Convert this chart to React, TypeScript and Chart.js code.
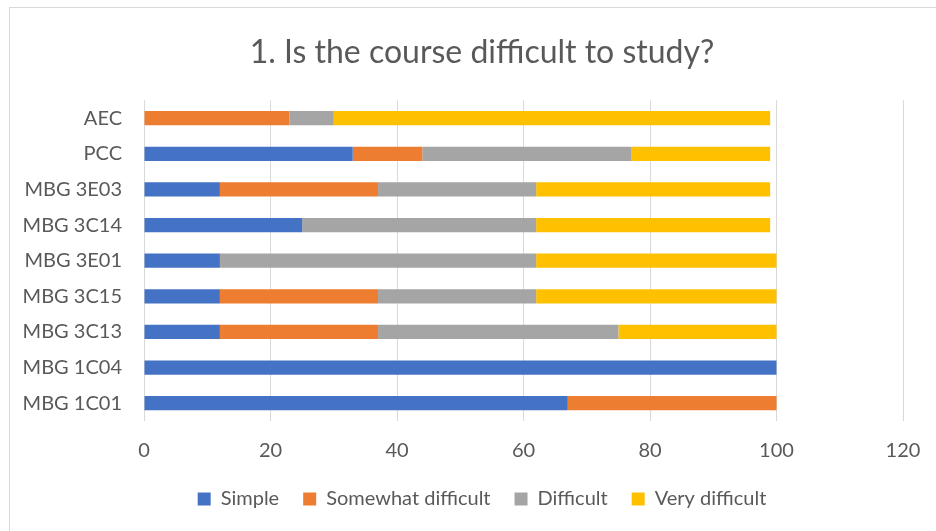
import React, { useEffect, useRef } from "react";
import { Chart, registerables } from "chart.js";

Chart.register(...registerables);

const categories = [
  "AEC",
  "PCC",
  "MBG 3E03",
  "MBG 3C14",
  "MBG 3E01",
  "MBG 3C15",
  "MBG 3C13",
  "MBG 1C04",
  "MBG 1C01",
];
const simple = [0, 33, 12, 25, 12, 12, 12, 100, 67];
const somewhatDifficult = [23, 11, 25, 0, 0, 25, 25, 0, 33];
const difficult = [7, 33, 25, 37, 50, 25, 38, 0, 0];
const veryDifficult = [69, 22, 37, 37, 38, 38, 25, 0, 0];
const seriesNames = ["Simple", "Somewhat difficult", "Difficult", "Very difficult"];
const xTicks = [0, 20, 40, 60, 80, 100, 120];
const title = "1. Is the course difficult to study?";

const COLORS = ["#4472C4", "#ED7D31", "#A5A5A5", "#FFC000"];
const TEXT = "#595959";
const FONT = "Lato, 'Open Sans', sans-serif";
const CANVAS_W = 964;

export default function App() {
  const ref = useRef<HTMLCanvasElement | null>(null);

  useEffect(() => {
    document.body.style.margin = "0";
    if (!ref.current) return;
    const values = [simple, somewhatDifficult, difficult, veryDifficult];
    const chart = new Chart(ref.current, {
      type: "bar",
      data: {
        labels: categories,
        datasets: values.map((v, i) => ({
          label: seriesNames[i],
          data: v,
          backgroundColor: COLORS[i],
          borderWidth: 0,
          categoryPercentage: 1,
          barPercentage: 0.4,
          xAxisID: "x",
          yAxisID: "y",
        })),
      },
      options: {
        animation: false,
        responsive: false,
        indexAxis: "y",
        layout: { padding: { left: 0, right: 0, top: 0, bottom: 12 } },
        scales: {
          x: {
            stacked: true,
            min: 0,
            max: xTicks[xTicks.length - 1],
            afterBuildTicks: (s: any) => {
              s.ticks = xTicks.map((v) => ({ value: v }));
            },
            afterFit: (s: any) => {
              s.height = 44;
            },
            grid: { color: "#d9d9d9", lineWidth: 1, drawTicks: false },
            border: { display: false },
            ticks: {
              color: TEXT,
              font: { family: FONT, size: 20 },
              padding: 18,
            },
          },
          y: {
            stacked: true,
            afterFit: (s: any) => {
              s.width = 144;
            },
            grid: { display: false, drawTicks: false },
            border: { display: false },
            ticks: {
              color: TEXT,
              font: { family: FONT, size: 20 },
              padding: 22,
            },
          },
          yRight: {
            type: "linear",
            position: "right",
            display: true,
            afterFit: (s: any) => {
              s.width = CANVAS_W - 903;
            },
            grid: { display: false, drawTicks: false },
            border: { display: false },
            ticks: { display: false },
          },
        },
        plugins: {
          title: {
            display: true,
            text: title,
            color: TEXT,
            font: { family: FONT, size: 32, weight: "normal" },
            padding: { top: 33, bottom: 29 },
          },
          legend: {
            position: "bottom",
            labels: {
              color: TEXT,
              font: { family: FONT, size: 20 },
              boxWidth: 13,
              boxHeight: 13,
              padding: 24,
            },
          },
          tooltip: { enabled: false },
        },
      },
    });
    return () => chart.destroy();
  }, []);

  return (
    <div style={{ position: "relative", width: 936, height: 531, overflow: "hidden", background: "#fff" }}>
      <div
        style={{
          position: "absolute",
          left: 9,
          top: 7,
          width: 1000,
          height: 600,
          border: "1px solid #d9d9d9",
          boxSizing: "border-box",
        }}
      />
      <canvas
        ref={ref}
        width={CANVAS_W}
        height={531}
        style={{ position: "absolute", left: 0, top: 0 }}
      />
    </div>
  );
}
